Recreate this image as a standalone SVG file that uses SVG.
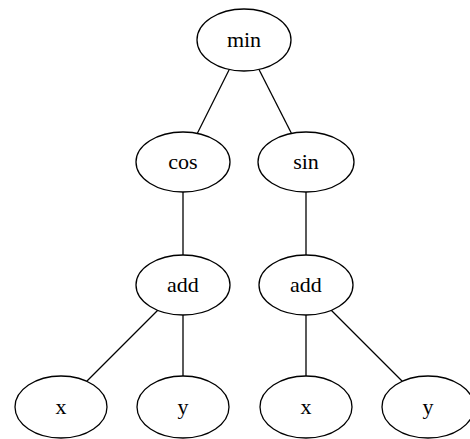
<svg xmlns="http://www.w3.org/2000/svg" width="470" height="439" viewBox="0 0 470 439">
<style>
.n ellipse{fill:#fff;stroke:#000;stroke-width:1.3}
.n text{font-family:"Liberation Serif","Times New Roman",serif;font-size:22px;text-anchor:middle;fill:#000}
#edges line{stroke:#000;stroke-width:1.3}
</style>
<rect width="470" height="439" fill="#fff"/>
<g id="edges">
<line x1="244" y1="40" x2="183" y2="162"/>
<line x1="244" y1="40" x2="306" y2="162"/>
<line x1="183" y1="162" x2="183" y2="285"/>
<line x1="306" y1="162" x2="306" y2="285"/>
<line x1="183" y1="285" x2="61" y2="407"/>
<line x1="183" y1="285" x2="183" y2="407"/>
<line x1="306" y1="285" x2="306" y2="407"/>
<line x1="306" y1="285" x2="428" y2="407"/>
</g>
<g id="min" class="n"><ellipse cx="244" cy="40" rx="47" ry="31"/><text x="244" y="47">min</text></g>
<g id="cos" class="n"><ellipse cx="183" cy="162" rx="47" ry="30"/><text x="183" y="169">cos</text></g>
<g id="sin" class="n"><ellipse cx="306" cy="162" rx="48" ry="30"/><text x="306" y="169">sin</text></g>
<g id="add1" class="n"><ellipse cx="183" cy="285" rx="47" ry="30"/><text x="183" y="292">add</text></g>
<g id="add2" class="n"><ellipse cx="306" cy="285" rx="47" ry="30"/><text x="306" y="292">add</text></g>
<g id="x1" class="n"><ellipse cx="61" cy="407" rx="46" ry="31"/><text x="61" y="414">x</text></g>
<g id="y1" class="n"><ellipse cx="183" cy="407" rx="46" ry="31"/><text x="183" y="414">y</text></g>
<g id="x2" class="n"><ellipse cx="306" cy="407" rx="46" ry="31"/><text x="306" y="414">x</text></g>
<g id="y2" class="n"><ellipse cx="428" cy="407" rx="46" ry="31"/><text x="428" y="414">y</text></g>
</svg>
